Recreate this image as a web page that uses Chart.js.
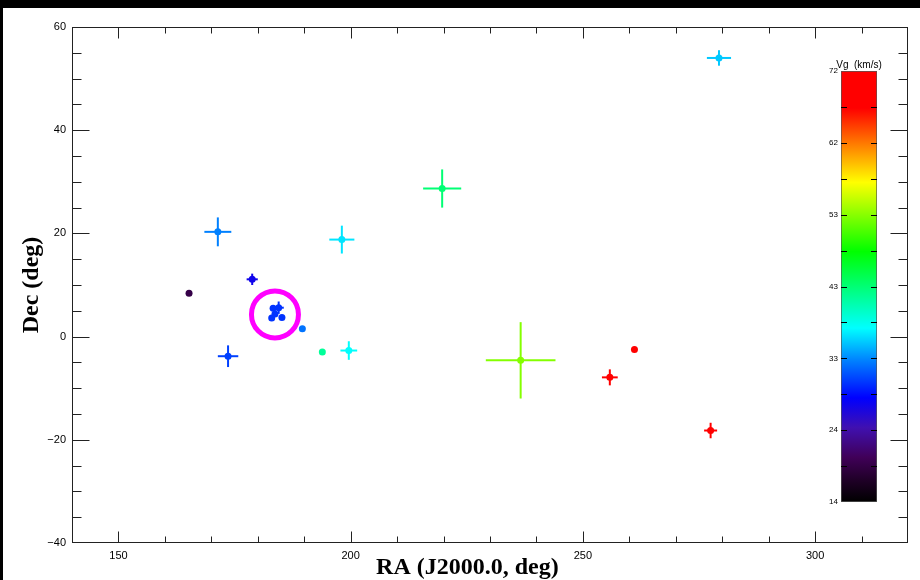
<!DOCTYPE html>
<html>
<head>
<meta charset="utf-8">
<script src="https://cdn.jsdelivr.net/npm/chart.js@4.4.0/dist/chart.umd.min.js"></script>
<style>
body { margin: 0; background: #000; width: 920px; height: 580px; overflow: hidden; position: relative; }
#plotbox { position: absolute; left: 3px; top: 8px; width: 917px; height: 572px; background: #fff; }
#cbbox { position: absolute; left: 800px; top: 50px; width: 100px; height: 470px; }
</style>
</head>
<body>
<div id="plotbox"><canvas id="plot" width="917" height="572"></canvas></div>
<div id="cbbox"><canvas id="cbar" width="100" height="470"></canvas></div>
<script>
// radiants: RA, Dec (deg), error bars and geocentric velocity
let ra     = [171.4, 165.2, 178.8, 173.6, 183.3, 184.5, 183.7, 183.0, 185.2, 189.6, 193.9, 198.1, 199.6, 219.7, 236.6, 261.1, 255.8, 277.5, 279.3]
let dec    = [20.3, 8.4, 11.1, -3.8, 5.5, 5.6, 4.4, 3.6, 3.7, 1.5, -3.0, 18.8, -2.7, 28.7, -4.6, -2.5, -7.9, -18.2, 54.0]
let raErr  = [2.9, 0, 1.2, 2.2, 0, 1.1, 0, 0, 0, 0, 0, 2.7, 1.8, 4.1, 7.5, 0, 1.7, 1.4, 2.6]
let decErr = [2.8, 0, 1.1, 2.1, 0, 1.2, 0, 0, 0, 0, 0, 2.7, 1.8, 3.7, 7.4, 0, 1.55, 1.5, 1.5]
let vg     = [33, 19, 27, 30.5, 30, 30, 30, 30, 30, 32.5, 41.5, 36.5, 37.5, 43, 52.5, 68, 68, 69, 35.5]

// highlighted group (magenta ring)
let markRa  = [183.7]
let markDec = [4.3]

// colour table
let cmapVg     = [14, 17, 20, 24, 28, 33, 37.4, 47.7, 57, 62, 67, 72]
let cmapColors = ['#000000', '#200028', '#400058', '#4010b0', '#0000ff', '#0080ff', '#00ffff', '#00ff00', '#ffff00', '#ff8000', '#ff0000', '#ff0000']
let cbTicks  = [14, 23.67, 33.33, 43, 52.67, 62.33, 72]
let cbLabels = ['14', '24', '33', '43', '53', '62', '72']

function hexrgb(h) {
    return [parseInt(h.substr(1, 2), 16), parseInt(h.substr(3, 2), 16), parseInt(h.substr(5, 2), 16)]
}

function vgColor(v) {
    if (v <= cmapVg[0]) return cmapColors[0]
    for (let i = 1; i < cmapVg.length; i++) {
        if (v <= cmapVg[i]) {
            let f = (v - cmapVg[i - 1]) / (cmapVg[i] - cmapVg[i - 1])
            let a = hexrgb(cmapColors[i - 1]), b = hexrgb(cmapColors[i])
            let c = a.map((x, k) => Math.round(x + (b[k] - x) * f))
            return `rgb(${c[0]},${c[1]},${c[2]})`
        }
    }
    return cmapColors[cmapColors.length - 1]
}

let pointColors = vg.map(vgColor)
let points = ra.map((r, i) => ({ x: r, y: dec[i] }))
let marks = markRa.map((r, i) => ({ x: r, y: markDec[i] }))

// error bars, drawn through the chart scales
const errorBars = {
    id: 'errorBars',
    beforeDatasetsDraw(chart) {
        const { ctx, chartArea: a, scales } = chart
        ctx.save()
        ctx.beginPath()
        ctx.rect(a.left, a.top, a.width, a.height)
        ctx.clip()
        ctx.lineWidth = 2
        for (let i = 0; i < ra.length; i++) {
            ctx.strokeStyle = pointColors[i]
            let px = scales.x.getPixelForValue(ra[i])
            let py = scales.y.getPixelForValue(dec[i])
            if (raErr[i] > 0) {
                ctx.beginPath()
                ctx.moveTo(scales.x.getPixelForValue(ra[i] - raErr[i]), py)
                ctx.lineTo(scales.x.getPixelForValue(ra[i] + raErr[i]), py)
                ctx.stroke()
            }
            if (decErr[i] > 0) {
                ctx.beginPath()
                ctx.moveTo(px, scales.y.getPixelForValue(dec[i] - decErr[i]))
                ctx.lineTo(px, scales.y.getPixelForValue(dec[i] + decErr[i]))
                ctx.stroke()
            }
        }
        ctx.restore()
    }
}

// IDL style box with inward ticks on all four sides
const boxTicks = {
    id: 'boxTicks',
    afterDraw(chart) {
        const { ctx, chartArea: a, scales } = chart
        ctx.save()
        ctx.strokeStyle = '#222'
        ctx.lineWidth = 1
        let L = Math.round(a.left) + 0.5, R = Math.round(a.right) - 0.5
        let T = Math.round(a.top) + 0.5, B = Math.round(a.bottom) - 0.5
        ctx.strokeRect(L, T, R - L, B - T)
        ctx.beginPath()
        scales.x.ticks.forEach(t => {
            if (t.value <= scales.x.min || t.value >= scales.x.max) return
            let x = Math.round(scales.x.getPixelForValue(t.value)) + 0.5
            let len = t.value % 50 === 0 ? 11 : 6
            ctx.moveTo(x, B); ctx.lineTo(x, B - len)
            ctx.moveTo(x, T); ctx.lineTo(x, T + len)
        })
        scales.y.ticks.forEach(t => {
            if (t.value <= scales.y.min || t.value >= scales.y.max) return
            let y = Math.round(scales.y.getPixelForValue(t.value)) + 0.5
            let len = t.value % 20 === 0 ? 17 : 9
            ctx.moveTo(L, y); ctx.lineTo(L + len, y)
            ctx.moveTo(R, y); ctx.lineTo(R - len, y)
        })
        ctx.stroke()

        // x axis title
        ctx.fillStyle = '#000'
        ctx.font = 'bold 24px "Liberation Serif"'
        ctx.textAlign = 'center'
        ctx.textBaseline = 'middle'
        ctx.fillText('RA (J2000.0, deg)', a.left + a.width * 0.473, 560)
        ctx.restore()
    }
}

const tickFont = { family: 'Liberation Sans', size: 11 }

new Chart(document.getElementById('plot'), {
    type: 'scatter',
    data: {
        datasets: [{
            data: points,
            pointBackgroundColor: pointColors,
            pointBorderWidth: 0,
            pointRadius: 3.5
        }, {
            data: marks,
            pointRadius: 23.5,
            pointBorderWidth: 5,
            pointBorderColor: '#ff00ff',
            pointBackgroundColor: 'rgba(0,0,0,0)'
        }]
    },
    options: {
        responsive: false,
        animation: false,
        events: [],
        layout: { autoPadding: false, padding: { top: 19, right: 12, left: 0, bottom: 0 } },
        plugins: { legend: { display: false }, tooltip: { enabled: false } },
        scales: {
            x: {
                type: 'linear', min: 140, max: 320,
                afterFit: s => { s.height = 37 },
                grid: { display: false, drawTicks: false },
                border: { display: false },
                ticks: {
                    stepSize: 10, autoSkip: false, maxRotation: 0, padding: 6,
                    color: '#000', font: tickFont,
                    callback: v => v % 50 === 0 ? String(v) : ''
                }
            },
            y: {
                type: 'linear', min: -40, max: 60,
                afterFit: s => { s.width = 69 },
                grid: { display: false, drawTicks: false },
                border: { display: false },
                ticks: {
                    stepSize: 5, autoSkip: false, padding: 6,
                    color: '#000', font: tickFont,
                    callback: v => v % 20 === 0 ? String(v).replace('-', '\u2212') : ''
                },
                title: {
                    display: true, text: 'Dec (deg)', color: '#000',
                    font: { family: 'Liberation Serif', size: 24, weight: 'bold' },
                    padding: { top: 14, bottom: 0 }
                }
            }
        }
    },
    plugins: [errorBars, boxTicks]
});

// colour bar
const cbDecor = {
    id: 'cbDecor',
    afterDraw(chart) {
        const { ctx, chartArea: a, scales } = chart
        ctx.save()
        ctx.strokeStyle = '#000'
        ctx.lineWidth = 1
        let marks = []
        cbTicks.forEach((v, i) => {
            marks.push(v)
            if (i > 0) marks.push((v + cbTicks[i - 1]) / 2)
        })
        ctx.beginPath()
        marks.forEach(v => {
            if (v <= cbTicks[0] || v >= cbTicks[cbTicks.length - 1]) return
            let y = Math.round(scales.y.getPixelForValue(v)) + 0.5
            ctx.moveTo(a.left, y); ctx.lineTo(a.left + 6, y)
            ctx.moveTo(a.right, y); ctx.lineTo(a.right - 6, y)
        })
        ctx.stroke()
        ctx.fillStyle = '#000'
        ctx.font = '10px "Liberation Sans"'
        ctx.textAlign = 'center'
        ctx.textBaseline = 'bottom'
        ctx.fillText('Vg  (km/s)', (a.left + a.right) / 2, a.top - 1)
        ctx.restore()
    }
}

new Chart(document.getElementById('cbar'), {
    type: 'bar',
    data: {
        labels: [''],
        datasets: [{
            data: [[cmapVg[0], cmapVg[cmapVg.length - 1]]],
            barPercentage: 1,
            categoryPercentage: 1,
            borderColor: '#555',
            borderWidth: 1,
            borderSkipped: false,
            backgroundColor: function (context) {
                const chart = context.chart
                const { ctx, chartArea, scales } = chart
                if (!chartArea) return '#fff'
                let lo = cmapVg[0], hi = cmapVg[cmapVg.length - 1]
                let g = ctx.createLinearGradient(0, scales.y.getPixelForValue(lo), 0, scales.y.getPixelForValue(hi))
                cmapVg.forEach((v, i) => g.addColorStop((v - lo) / (hi - lo), cmapColors[i]))
                return g
            }
        }]
    },
    options: {
        responsive: false,
        animation: false,
        events: [],
        layout: { padding: { top: 21, right: 23, bottom: 18, left: 0 } },
        plugins: { legend: { display: false }, tooltip: { enabled: false } },
        scales: {
            x: { display: false },
            y: {
                min: 14, max: 72,
                afterFit: s => { s.width = 41 },
                afterBuildTicks: s => { s.ticks = cbTicks.map(v => ({ value: v })) },
                grid: { display: false, drawTicks: false },
                border: { display: false },
                ticks: {
                    padding: 3, color: '#000',
                    font: { family: 'Liberation Sans', size: 8 },
                    callback: (v, i) => cbLabels[i]
                }
            }
        }
    },
    plugins: [cbDecor]
});
</script>
</body>
</html>
